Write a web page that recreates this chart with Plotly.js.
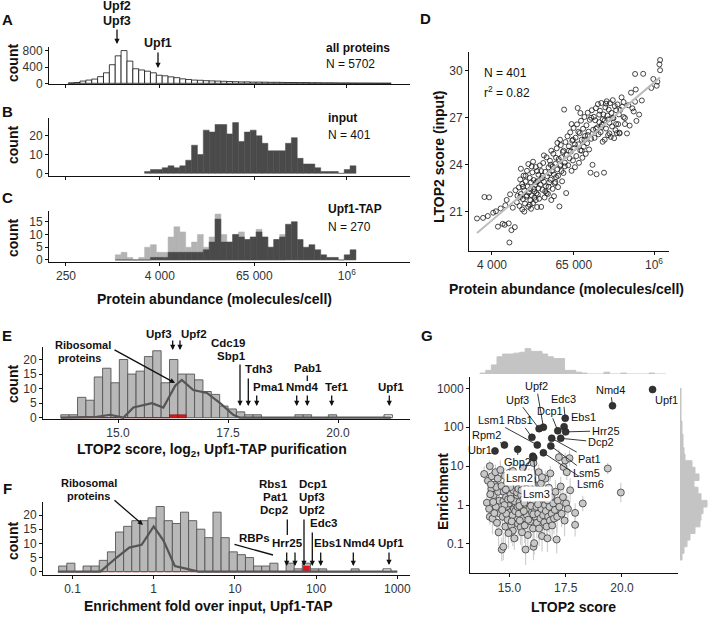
<!DOCTYPE html>
<html>
<head>
<meta charset="utf-8">
<script src="https://cdn.plot.ly/plotly-3.0.1.min.js"></script>
<style>
  html, body { margin: 0; padding: 0; background: #fff; }
  #figure { width: 709px; height: 617px; }
</style>
</head>
<body>
<div id="figure"></div>
<script>
// ---------- data ----------
// A-C: histograms of protein abundance (log10 molecules/cell), shared bins
var abundBinStart = 2.427;
var abundBinWidth = 0.0753;
var abundTicks = [250, 4000, 65000, 1e6];
var abundTickText = ['250', '4 000', '65 000', '10<sup>6</sup>'];

var allCounts = [10, 20, 55, 80, 105, 165, 260, 460, 680, 810, 550, 360, 330, 300, 260,
    200, 185, 160, 140, 110, 95, 80, 75, 65, 60, 55, 50, 45, 40, 35, 35, 30, 30, 28, 25,
    25, 22, 20, 20, 18, 18, 15, 15, 12, 12, 10, 8, 8, 6, 5, 5, 4, 3, 2, 2];
var inputStartBin = 13;
var inputCounts = [1, 2, 2, 3, 4, 3, 4, 7, 15, 10, 23, 22, 26, 26, 21, 27, 17, 22, 23, 20,
    16, 12, 12, 12, 16, 19, 8, 5, 5, 3, 1, 1, 1, 0, 2, 4];
var tapStartBin = 8;
var tapOtherCounts = [2, 3, 1, 0, 1, 5, 6, 3, 3, 9, 13, 11, 5, 7, 10, 5, 9, 18, 10, 7, 10,
    11, 8, 9, 12, 9, 5, 8, 10];
var tapCounts = [0, 0, 0, 0, 0, 0, 1, 1, 1, 3, 3, 3, 3, 3, 3, 4, 7, 16, 7, 7, 10, 9, 8, 9,
    11, 9, 5, 8, 9, 14, 15, 8, 5, 6, 4, 2, 1, 1, 0, 2, 4];

// D: [log10 abundance, LTOP2 score (input)]
var dPoints = [
    [3.38,20.58],[3.47,20.62],[3.49,21.95],[3.56,21.93],[3.54,20.74],[3.62,20.95],[3.66,21.04],[3.69,20.06],
    [3.73,21.22],[3.76,20.24],[3.79,20.18],[3.80,21.42],[3.85,20.27],[3.86,19.05],[3.89,19.84],[3.82,21.76],
    [3.87,22.12],[3.91,21.27],[3.94,20.03],[3.95,22.38],[3.97,21.62],[3.98,22.02],
    [4.00,22.56],[4.01,21.38],[4.02,23.07],[4.03,22.14],[4.05,21.16],[4.05,22.78],[4.06,21.82],[4.07,23.31],
    [4.08,22.37],[4.09,21.53],[4.10,22.94],[4.11,21.97],[4.12,23.62],[4.13,22.61],[4.14,21.33],[4.15,22.24],
    [4.16,23.17],[4.17,21.74],[4.18,22.88],[4.19,22.06],[4.20,23.52],[4.21,21.56],[4.22,22.47],[4.22,23.03],
    [4.23,21.91],[4.24,22.72],[4.25,23.86],[4.26,22.19],[4.27,21.31],[4.28,22.96],[4.29,23.37],[4.29,22.51],
    [4.30,21.84],[4.03,23.75],[4.08,21.02],[4.12,22.05],[4.16,21.45],[4.19,23.90],[4.23,22.30],[4.27,23.60],
    [4.14,24.05],[4.06,22.60],[4.18,21.20],[4.25,21.75],[4.21,24.20],[4.10,23.30],[4.02,21.95],[4.28,22.10],
    [4.17,22.45],[4.26,22.90],
    [4.31,23.96],[4.32,22.74],[4.33,21.32],[4.34,23.14],[4.35,22.41],[4.36,24.12],[4.37,22.92],[4.38,21.92],
    [4.39,23.55],[4.40,22.63],[4.41,24.48],[4.42,23.27],[4.43,22.15],[4.44,23.84],[4.45,22.88],[4.46,24.26],
    [4.47,23.05],[4.48,21.76],[4.49,23.61],[4.50,22.47],[4.51,24.71],[4.52,23.38],[4.53,22.83],[4.54,24.06],
    [4.55,23.22],[4.56,25.05],[4.57,23.71],[4.58,22.58],[4.59,24.37],[4.60,21.35],[4.61,23.94],[4.62,25.26],
    [4.63,24.47],[4.64,22.95],[4.65,24.82],[4.66,23.48],[4.67,27.52],[4.68,24.14],[4.69,25.45],[4.70,22.20],
    [4.33,23.60],[4.37,24.60],[4.41,22.20],[4.45,23.45],[4.48,24.90],[4.52,22.00],[4.55,24.45],[4.58,23.30],
    [4.62,24.00],[4.66,24.90],[4.35,23.30],[4.44,22.60],[4.50,23.90],[4.57,25.40],[4.63,23.60],[4.39,22.30],
    [4.47,24.00],[4.54,22.90],[4.61,25.60],[4.68,23.90],
    [4.71,24.63],[4.72,25.82],[4.73,23.97],[4.74,25.18],[4.75,24.42],[4.76,26.07],[4.77,24.85],[4.78,23.62],
    [4.79,25.54],[4.80,24.28],[4.81,26.35],[4.82,25.07],[4.83,23.85],[4.84,25.73],[4.85,24.56],[4.86,26.58],
    [4.87,27.62],[4.88,25.31],[4.89,24.13],[4.90,26.02],[4.91,24.92],[4.92,26.81],[4.93,25.60],[4.94,24.45],
    [4.95,26.30],[4.96,25.15],[4.97,27.05],[4.98,25.84],[4.99,24.70],[5.00,26.52],[5.01,25.38],[5.02,27.32],
    [5.03,26.11],[5.04,24.98],[5.05,26.87],[5.06,23.50],[5.07,25.66],[5.08,27.48],[5.09,24.00],[5.10,26.24],
    [4.74,24.90],[4.78,26.60],[4.83,25.30],[4.88,26.10],[4.93,24.90],[4.97,25.60],[5.02,25.90],[5.07,27.00],
    [4.80,25.60],[4.91,27.30],
    [5.11,27.06],[5.12,25.72],[5.13,26.84],[5.14,27.61],[5.15,23.40],[5.16,26.38],[5.17,27.87],[5.18,25.95],
    [5.19,26.72],[5.20,27.45],[5.21,26.08],[5.22,27.94],[5.23,26.55],[5.24,25.47],[5.25,27.21],[5.26,23.50],
    [5.27,26.83],[5.28,27.66],[5.29,26.31],[5.30,28.05],[5.31,27.14],[5.32,25.89],[5.33,27.52],[5.34,26.68],
    [5.35,27.93],[5.36,25.78],[5.37,27.31],[5.38,26.45],[5.39,28.12],[5.40,26.97],[5.41,25.70],[5.42,27.74],
    [5.43,26.21],[5.44,27.48],[5.45,26.02],[5.46,27.85],[5.47,26.59],[5.48,27.21],[5.49,26.00],[5.50,27.50],
    [5.14,26.30],[5.19,27.20],[5.24,26.90],[5.29,27.90],[5.34,26.00],[5.39,27.00],[5.44,26.60],[5.22,26.40],
    [5.32,26.90],[5.27,25.60],
    [5.52,28.30],[5.55,27.05],[5.57,26.98],[5.57,26.60],[5.60,26.00],[5.62,27.80],[5.64,26.50],[5.66,28.60],
    [5.70,27.40],[5.72,28.02],[5.74,26.80],[5.73,28.80],[5.72,29.79],[5.78,27.20],[5.82,28.10],[5.84,29.80],
    [5.55,28.00],[5.68,27.60],[5.53,27.70],[5.49,26.05],
    [5.99,29.47],[6.04,29.04],[6.05,29.30],[6.08,30.40],[6.09,30.68],[6.09,30.03],[5.96,28.90]
];

// E: LTOP2 score histogram of the Upf1-TAP purification
var eBinStart = 13.7;
var eBinWidth = 0.19;
var eCounts = [1, 1, 7, 6, 14, 17, 12, 20, 15, 16, 21, 23, 12, 20, 15, 15, 13, 9, 8, 4, 3, 2,
    1, 1, 0, 0, 0, 0, 1, 1, 0, 0, 1];
var eNmdCounts = [0, 0, 0, 0, 0, 0, 0, 0, 0, 0, 0, 0, 0, 1, 1];
var eUpf1Score = 21.14;
var eRiboScore = [13.7, 14.52, 14.82, 15.12, 15.35, 15.77, 16.03, 16.3, 16.45, 16.71, 17.02, 17.32, 17.62, 17.77, 21.2];
var eRiboCount = [0, 0.3, 1, 0, 3.5, 5, 3.5, 11, 13, 9.5, 8.5, 5, 1, 0, 0];

// F: enrichment fold histogram (bins in log10 fold)
var fBinStart = -1.17;
var fBinWidth = 0.1;
var fCounts = [2, 3, 0, 2, 2, 4, 7, 14, 16, 18, 18, 19, 23, 18, 17, 21, 18, 15, 12, 21, 12, 7,
    6, 5, 2, 2, 3, 0, 3, 1, 3, 1, 1, 0, 0, 0, 1];
var fNmdCounts = [0, 0, 0, 0, 0, 0, 0, 0, 0, 0, 0, 0, 0, 0, 0, 0, 0, 0, 0, 0, 0, 0, 0, 0, 0, 0,
    0, 0, 0, 0, 2];
var fUpf1Fold = 746;
var fRiboFold = [0.066, 0.22, 0.35, 0.5, 0.71, 1.0, 1.32, 1.82, 2.57, 3.55, 1000];
var fRiboCount = [0, 0, 5, 8.5, 9.5, 16, 11, 2, 1, 0, 0];

// G: [LTOP2 score, enrichment, error (log10 units)]
var gPoints = [
    [13.88,6.3,0.2],[14.00,1.15,0.25],[14.10,0.8,0.3],[14.13,0.5,0.2],[14.13,10,0.15],[14.05,4.2,0.3],
    [14.2,2.6,0.35],[14.25,0.45,0.4],[14.3,1.8,0.2],[14.35,3.3,0.25],[14.4,0.9,0.3],[14.22,5.5,0.2],
    [14.45,0.35,0.35],[14.5,2.2,0.3],[14.55,1.3,0.45],[14.38,7.0,0.2],[14.28,1.2,0.3],[14.48,4.8,0.25],
    [14.58,0.6,0.4],[14.15,1.9,0.3],[14.42,2.9,0.2],[14.6,8.0,0.25],[14.33,0.62,0.3],[14.52,0.2,0.35],
    [14.18,3.4,0.2],
    [14.66,0.072,0.3],[14.73,0.085,0.35],[14.73,1.26,0.3],[14.65,3.1,0.25],[14.7,0.5,0.4],[14.75,2.2,0.3],
    [14.8,5.6,0.2],[14.82,0.28,0.45],[14.85,1.6,0.3],[14.88,0.9,0.35],[14.9,3.8,0.25],[14.92,0.42,0.4],
    [14.95,2.7,0.3],[14.98,1.1,0.3],[15.0,6.8,0.2],[15.02,0.65,0.35],[15.05,1.9,0.3],[15.08,0.3,0.45],
    [15.1,4.4,0.25],[15.12,1.35,0.3],[15.15,0.22,0.4],[15.18,2.4,0.3],[15.2,0.8,0.35],[15.22,0.14,0.3],
    [15.25,3.3,0.25],[15.28,1.05,0.3],[15.3,0.48,0.4],[15.32,5.1,0.2],[15.35,1.7,0.3],[15.38,0.33,0.45],
    [14.78,1.0,0.3],[14.86,0.6,0.35],[14.94,1.4,0.3],[15.04,2.9,0.25],[15.14,0.55,0.4],[15.24,1.25,0.3],
    [15.34,2.1,0.3],[14.68,0.75,0.35],[14.96,0.19,0.4],[15.16,7.5,0.2],[15.26,0.7,0.35],[15.06,1.45,0.3],
    [14.84,2.5,0.25],[15.36,0.9,0.3],[15.1,0.38,0.45],
    [15.4,2.6,0.3],[15.42,0.6,0.4],[15.45,1.2,0.3],[15.48,4.0,0.25],[15.5,0.27,0.45],[15.52,1.8,0.3],
    [15.55,0.85,0.35],[15.58,3.0,0.25],[15.6,0.45,0.4],[15.62,1.4,0.3],[15.65,6.0,0.2],[15.68,0.3,0.45],
    [15.7,2.2,0.3],[15.72,0.072,0.4],[15.75,1.0,0.3],[15.78,0.55,0.4],[15.8,3.5,0.25],[15.82,0.17,0.45],
    [15.85,1.6,0.3],[15.88,0.8,0.35],[15.9,2.8,0.3],[15.92,0.38,0.4],[15.95,1.25,0.3],[15.98,4.6,0.25],
    [16.0,0.65,0.35],[16.02,2.0,0.3],[16.05,0.25,0.45],[16.07,0.085,0.35],[16.1,0.105,0.3],[16.07,12,0.2],
    [16.12,1.5,0.3],[16.15,0.5,0.4],[16.18,3.2,0.25],[15.44,0.95,0.3],[15.54,2.4,0.3],[15.64,0.7,0.35],
    [15.74,1.7,0.3],[15.84,0.42,0.4],[15.94,2.3,0.3],[16.04,1.1,0.3],[16.14,0.75,0.35],[15.46,0.4,0.4],
    [15.66,1.15,0.3],[15.86,5.5,0.2],[16.06,0.58,0.4],[15.56,0.2,0.45],[15.76,2.6,0.3],[15.96,0.95,0.3],
    [16.16,1.9,0.3],[15.6,9.0,0.2],
    [16.2,0.9,0.3],[16.22,0.35,0.4],[16.25,1.7,0.3],[16.28,0.6,0.35],[16.3,2.5,0.3],[16.32,0.25,0.45],
    [16.35,1.2,0.3],[16.38,0.45,0.4],[16.4,3.6,0.25],[16.42,0.8,0.35],[16.45,0.16,0.4],[16.48,1.5,0.3],
    [16.5,0.55,0.4],[16.52,2.1,0.3],[16.55,0.36,0.45],[16.58,1.0,0.3],[16.6,4.8,0.2],[16.62,0.7,0.35],
    [16.65,0.28,0.4],[16.69,0.14,0.35],[16.7,1.3,0.3],[16.72,0.5,0.4],[16.75,2.8,0.25],[16.78,0.9,0.3],
    [16.8,0.4,0.4],[16.82,6.5,0.2],[16.85,1.6,0.3],[16.88,0.6,0.35],[16.9,0.3,0.4],[16.95,1.1,0.3],
    [16.98,0.45,0.4],[16.3,7.0,0.2],[16.45,5.2,0.2],[16.6,1.9,0.3],[16.27,1.05,0.3],
    [17.02,0.75,0.35],[17.05,2.2,0.3],[17.1,0.13,0.35],[17.12,0.5,0.4],[17.15,1.3,0.3],[17.2,17,0.2],
    [17.22,0.9,0.3],[17.28,3.0,0.25],[17.32,0.6,0.35],[17.38,1.6,0.3],[17.45,0.4,0.4],[17.48,14,0.2],
    [17.52,1.1,0.3],[17.6,0.8,0.35],[17.67,16,0.2],[17.7,2.4,0.3],[17.92,0.63,0.25],[17.92,0.31,0.3],
    [18.26,1.1,0.2],[19.37,8.7,0.15],[19.95,2.1,0.25],[17.4,9.5,0.2],[17.55,7.0,0.2]
];
var gNames = ['Upf1', 'Nmd4', 'Upf2', 'Upf3', 'Edc3', 'Dcp1', 'Ebs1', 'Hrr25', 'Dcp2', 'Pat1',
    'Lsm5', 'Lsm6', 'Lsm1', 'Rbs1', 'Rpm2', 'Ubr1', 'Gbp2', 'Lsm2', 'Lsm3'];
var gNamedScore = [21.36, 19.58, 16.51, 16.32, 17.48, 17.15, 17.43, 17.5, 17.28, 16.88,
    16.84, 16.51, 16.24, 16.0, 14.78, 14.36, 15.37, 16.04, 16.08];
var gNamedEnrich = [930, 355, 100, 92, 170, 81, 103, 76, 52, 52,
    33, 22, 35, 55, 35, 24.6, 27, 18, 16.5];

var gTopStart = 13.7;
var gTopWidth = 0.25;
var gTopCounts = [1, 4, 10, 19, 22, 22, 23, 24, 28, 25, 25, 22, 19, 17, 17, 4, 4, 2, 1, 0, 0, 0,
    2, 0, 0, 1, 0, 0, 0, 0, 1, 0, 0];
var gRightStart = -1.41;
var gRightWidth = 0.17;
var gRightCounts = [2, 4, 7, 10, 15, 20, 21, 23, 27, 21, 18, 14, 19, 15, 12, 5, 4, 3, 3, 2, 2,
    1, 1, 1, 1, 1];

// ---------- helpers ----------
var W = 709, H = 617;
var FONT = 'Liberation Sans, Arial, Helvetica, sans-serif';

function xd(a, b) { return [a / W, b / W]; }
function yd(top, bottom) { return [1 - bottom / H, 1 - top / H]; }

function centers(start, width, offset, n) {
    var out = [];
    for (var i = 0; i < n; i++) out.push(start + (offset + i + 0.5) * width);
    return out;
}

function stepEdges(start, width, n) {
    var out = [];
    for (var i = 0; i <= n; i++) out.push(start + i * width);
    return out;
}

function baseAxis(o) {
    var ax = {
        showline: true, linecolor: '#111', linewidth: 1,
        ticks: 'outside', ticklen: 3, tickwidth: 1, tickcolor: '#111',
        showgrid: false, zeroline: false, fixedrange: true,
        tickmode: 'array', tickfont: { size: 12, color: '#333' }
    };
    for (var k in o) ax[k] = o[k];
    return ax;
}

function hiddenAxis(o) {
    var ax = {
        showline: false, ticks: '', showticklabels: false,
        showgrid: false, zeroline: false, fixedrange: true
    };
    for (var k in o) ax[k] = o[k];
    return ax;
}

function label(text, x, y, o) {
    var a = {
        xref: 'paper', yref: 'paper', x: x / W, y: 1 - y / H,
        text: text, showarrow: false, xanchor: 'center', yanchor: 'middle',
        font: { family: FONT, size: 12, color: '#111' }
    };
    for (var k in o) a[k] = o[k];
    return a;
}

function arrow(x1, y1, x2, y2, head) {
    return {
        xref: 'paper', yref: 'paper', x: x2 / W, y: 1 - y2 / H,
        ax: x1 - x2, ay: y1 - y2, text: '', showarrow: true,
        arrowhead: head ? 2 : 0, arrowsize: 0.8, arrowwidth: 1.3,
        arrowcolor: '#111', standoff: 0, startstandoff: 0
    };
}

// ---------- traces ----------
var data = [];

// A
data.push({
    type: 'bar', x: centers(abundBinStart, abundBinWidth, 0, allCounts.length), y: allCounts,
    width: abundBinWidth, marker: { color: '#fff', line: { color: '#111', width: 0.8 } },
    xaxis: 'x', yaxis: 'y', hoverinfo: 'skip'
});
// B
data.push({
    type: 'bar', x: centers(abundBinStart, abundBinWidth, inputStartBin, inputCounts.length), y: inputCounts,
    width: abundBinWidth, marker: { color: '#4a4a4a', line: { color: '#4a4a4a', width: 0.5 } },
    xaxis: 'x2', yaxis: 'y2', hoverinfo: 'skip'
});
// C
data.push({
    type: 'bar', x: centers(abundBinStart, abundBinWidth, tapStartBin, tapOtherCounts.length), y: tapOtherCounts,
    width: abundBinWidth, marker: { color: '#b3b3b3', line: { color: '#b3b3b3', width: 0.5 } },
    xaxis: 'x3', yaxis: 'y3', hoverinfo: 'skip'
});
data.push({
    type: 'bar', x: centers(abundBinStart, abundBinWidth, tapStartBin, tapCounts.length), y: tapCounts,
    width: abundBinWidth, marker: { color: '#4a4a4a', line: { color: '#4a4a4a', width: 0.5 } },
    xaxis: 'x3', yaxis: 'y3', hoverinfo: 'skip'
});

// D
var dX = dPoints.map(function (p) { return p[0]; });
var dY = dPoints.map(function (p) { return p[1]; });
var n = dX.length, sx = 0, sy = 0, sxx = 0, sxy = 0;
for (var i = 0; i < n; i++) { sx += dX[i]; sy += dY[i]; sxx += dX[i] * dX[i]; sxy += dX[i] * dY[i]; }
var slope = (n * sxy - sx * sy) / (n * sxx - sx * sx);
var icpt = (sy - slope * sx) / n;
var xmin = Math.min.apply(null, dX), xmax = Math.max.apply(null, dX);
data.push({
    type: 'scatter', mode: 'markers', x: dX, y: dY,
    marker: { symbol: 'circle-open', size: 5, color: '#1a1a1a', line: { width: 0.8 } },
    xaxis: 'x4', yaxis: 'y4', hoverinfo: 'skip'
});
data.push({
    type: 'scatter', mode: 'lines', x: [xmin, xmax], y: [icpt + slope * xmin, icpt + slope * xmax],
    line: { color: '#bdbdbd', width: 2 }, xaxis: 'x4', yaxis: 'y4', hoverinfo: 'skip'
});

// E
data.push({
    type: 'bar', x: centers(eBinStart, eBinWidth, 0, eCounts.length), y: eCounts,
    width: eBinWidth, marker: { color: '#b8b8b8', line: { color: '#555', width: 0.9 } },
    xaxis: 'x5', yaxis: 'y5', hoverinfo: 'skip'
});
data.push({
    type: 'bar', x: centers(eBinStart, eBinWidth, 0, eNmdCounts.length), y: eNmdCounts,
    width: eBinWidth, marker: { color: '#d41a1a', line: { color: '#8a1010', width: 0.6 } },
    xaxis: 'x5', yaxis: 'y5', hoverinfo: 'skip'
});
data.push({
    type: 'bar', x: [eUpf1Score], y: [1], width: eBinWidth,
    marker: { color: '#fff', line: { color: '#444', width: 0.9 } },
    xaxis: 'x5', yaxis: 'y5', hoverinfo: 'skip'
});
data.push({
    type: 'scatter', mode: 'lines', x: eRiboScore, y: eRiboCount,
    line: { color: '#555', width: 2.2 }, xaxis: 'x5', yaxis: 'y5', hoverinfo: 'skip'
});

// F
data.push({
    type: 'bar', x: centers(fBinStart, fBinWidth, 0, fCounts.length), y: fCounts,
    width: fBinWidth, marker: { color: '#b8b8b8', line: { color: '#555', width: 0.9 } },
    xaxis: 'x6', yaxis: 'y6', hoverinfo: 'skip'
});
data.push({
    type: 'bar', x: centers(fBinStart, fBinWidth, 0, fNmdCounts.length), y: fNmdCounts,
    width: fBinWidth * 0.8, marker: { color: '#e0141e', line: { color: '#e0141e', width: 0.5 } },
    xaxis: 'x6', yaxis: 'y6', hoverinfo: 'skip'
});
data.push({
    type: 'bar', x: [Math.log10(fUpf1Fold)], y: [1], width: fBinWidth,
    marker: { color: '#fff', line: { color: '#444', width: 0.9 } },
    xaxis: 'x6', yaxis: 'y6', hoverinfo: 'skip'
});
data.push({
    type: 'scatter', mode: 'lines', x: fRiboFold.map(Math.log10), y: fRiboCount,
    line: { color: '#555', width: 2.2 }, xaxis: 'x6', yaxis: 'y6', hoverinfo: 'skip'
});

// G marginal histograms
var topEdges = stepEdges(gTopStart, gTopWidth, gTopCounts.length);
data.push({
    type: 'scatter', mode: 'lines', x: [topEdges[0]].concat(topEdges),
    y: [0].concat(gTopCounts, [gTopCounts[gTopCounts.length - 1]]),
    line: { shape: 'hv', color: '#c4c4c4', width: 1 }, fill: 'tozeroy', fillcolor: '#c4c4c4',
    xaxis: 'x8', yaxis: 'y8', hoverinfo: 'skip'
});
var rightEdges = stepEdges(gRightStart, gRightWidth, gRightCounts.length);
data.push({
    type: 'scatter', mode: 'lines', y: [rightEdges[0]].concat(rightEdges),
    x: [0].concat(gRightCounts, [gRightCounts[gRightCounts.length - 1]]),
    line: { shape: 'vh', color: '#c4c4c4', width: 1 }, fill: 'tozerox', fillcolor: '#c4c4c4',
    xaxis: 'x9', yaxis: 'y9', hoverinfo: 'skip'
});

// G scatter
var gX = gPoints.map(function (p) { return p[0]; });
var gY = gPoints.map(function (p) { return p[1]; });
var gUp = gPoints.map(function (p) { return p[1] * (Math.pow(10, p[2]) - 1); });
var gDown = gPoints.map(function (p) { return p[1] * (1 - Math.pow(10, -p[2])); });
data.push({
    type: 'scatter', mode: 'markers', x: gX, y: gY,
    error_y: { type: 'data', symmetric: false, array: gUp, arrayminus: gDown,
        color: '#d0d0d0', thickness: 1.2, width: 0 },
    marker: { size: 7, color: '#c8c8c8', line: { color: '#3a3a3a', width: 0.8 } },
    xaxis: 'x7', yaxis: 'y7', hoverinfo: 'skip'
});
data.push({
    type: 'scatter', mode: 'markers', x: gNamedScore, y: gNamedEnrich,
    marker: { size: 7, color: '#333', line: { color: '#222', width: 0.6 } },
    xaxis: 'x7', yaxis: 'y7', hoverinfo: 'skip'
});

// ---------- annotations ----------
var ann = [];
var B = function (t) { return '<b>' + t + '</b>'; };

// panel letters
[['A', 7, 19], ['B', 7, 111], ['C', 7, 197], ['D', 426, 18], ['E', 7, 335], ['F', 7, 488], ['G', 427, 335]]
    .forEach(function (l) { ann.push(label(B(l[0]), l[1], l[2], { font: { family: FONT, size: 15, color: '#111' } })); });

// axis titles
var titleFont = { family: FONT, size: 14, color: '#111' };
[[63], [145], [238], [384], [541]].forEach(function (c) {
    ann.push(label(B('count'), 13, c[0], { textangle: -90, font: titleFont }));
});
ann.push(label(B('Protein abundance (molecules/cell)'), 215, 299, { font: titleFont }));
ann.push(label(B('Protein abundance (molecules/cell)'), 566, 289, { font: titleFont }));
ann.push(label(B('LTOP2 score (input)'), 439, 157, { textangle: -90, font: titleFont }));
ann.push(label(B('LTOP2 score, log<sub>2</sub>, Upf1-TAP purification'), 212, 450, { font: titleFont }));
ann.push(label(B('Enrichment fold over input, Upf1-TAP'), 208, 606, { font: titleFont }));
ann.push(label(B('Enrichment'), 443, 492, { textangle: -90, font: titleFont }));
ann.push(label(B('LTOP2 score'), 573, 607, { font: titleFont }));

// A-C side texts
var sideFont = { family: FONT, size: 12, color: '#111' };
ann.push(label(B('all proteins'), 324, 48, { xanchor: 'left', font: sideFont }));
ann.push(label('N = 5702', 324, 64, { xanchor: 'left', font: sideFont }));
ann.push(label(B('input'), 326, 118, { xanchor: 'left', font: sideFont }));
ann.push(label('N = 401', 326, 135, { xanchor: 'left', font: sideFont }));
ann.push(label(B('Upf1-TAP'), 326, 209, { xanchor: 'left', font: sideFont }));
ann.push(label('N = 270', 326, 227, { xanchor: 'left', font: sideFont }));

// A arrows
var aFont = { family: FONT, size: 12.5, color: '#111' };
ann.push(label(B('Upf2'), 117, 6, { font: aFont }));
ann.push(label(B('Upf3'), 117, 21, { font: aFont }));
ann.push(arrow(117, 28, 117, 44, true));
ann.push(label(B('Upf1'), 158, 43, { font: aFont }));
ann.push(arrow(158, 51, 158, 68, true));

// D texts
ann.push(label('N = 401', 482, 73, { xanchor: 'left', font: sideFont }));
ann.push(label('r<sup>2</sup> = 0.82', 482, 92, { xanchor: 'left', font: sideFont }));

// E texts and arrows
var eFont = { family: FONT, size: 11.5, color: '#111' };
var rFont = { family: FONT, size: 11, color: '#111' };
ann.push(label(B('Ribosomal'), 83, 345, { font: rFont }));
ann.push(label(B('proteins'), 79, 358, { font: rFont }));
ann.push(arrow(113, 349, 175, 383, true));
ann.push(label(B('Upf3'), 159, 334, { font: eFont }));
ann.push(label(B('Upf2'), 194, 334, { font: eFont }));
ann.push(arrow(172.7, 339, 172.7, 350, true));
ann.push(arrow(180, 339, 180, 350, true));
ann.push(label(B('Cdc19'), 228, 343, { font: eFont }));
ann.push(label(B('Sbp1'), 231, 356, { font: eFont }));
ann.push(arrow(240, 363, 240, 406, true));
ann.push(label(B('Tdh3'), 258, 369, { font: eFont }));
ann.push(arrow(248.3, 377, 248.3, 406, true));
ann.push(label(B('Pma1'), 268, 387, { font: eFont }));
ann.push(arrow(256.7, 394, 256.7, 406, true));
ann.push(label(B('Nmd4'), 302, 387, { font: eFont }));
ann.push(arrow(296.7, 394, 296.7, 406, true));
ann.push(label(B('Pab1'), 308, 368, { font: eFont }));
ann.push(arrow(307.3, 374, 307.3, 381, false));
ann.push(arrow(307.3, 394, 307.3, 406, true));
ann.push(label(B('Tef1'), 336, 387, { font: eFont }));
ann.push(arrow(331.7, 394, 331.7, 406, true));
ann.push(label(B('Upf1'), 391, 387, { font: eFont }));
ann.push(arrow(389.3, 394, 389.3, 406, true));

// F texts and arrows
ann.push(label(B('Ribosomal'), 89, 483, { font: rFont }));
ann.push(label(B('proteins'), 88, 496, { font: rFont }));
ann.push(arrow(113, 499, 143, 525, true));
ann.push(label(B('Rbs1'), 290, 484, { xanchor: 'right', font: eFont }));
ann.push(label(B('Pat1'), 290, 497, { xanchor: 'right', font: eFont }));
ann.push(label(B('Dcp2'), 290, 510, { xanchor: 'right', font: eFont }));
ann.push(label(B('Dcp1'), 297, 484, { xanchor: 'left', font: eFont }));
ann.push(label(B('Upf3'), 297, 497, { xanchor: 'left', font: eFont }));
ann.push(label(B('Upf2'), 297, 510, { xanchor: 'left', font: eFont }));
ann.push(arrow(287.3, 518, 287.3, 535, false));
ann.push(label(B('Hrr25'), 287, 543, { font: eFont }));
ann.push(arrow(286.7, 551, 286.7, 566, true));
ann.push(arrow(295, 551, 295, 566, true));
ann.push(arrow(304, 518, 304, 566, true));
ann.push(label(B('Edc3'), 324, 523, { font: eFont }));
ann.push(arrow(312.3, 531, 312.3, 566, true));
ann.push(label(B('RBPs'), 254, 538, { font: eFont }));
ann.push(arrow(233, 544, 273, 555, false));
ann.push(label(B('Ebs1'), 328, 543, { font: eFont }));
ann.push(arrow(320.7, 551, 320.7, 566, true));
ann.push(label(B('Nmd4'), 359, 543, { font: eFont }));
ann.push(arrow(353.3, 551, 353.3, 566, true));
ann.push(label(B('Upf1'), 391, 543, { font: eFont }));
ann.push(arrow(389, 551, 389, 565, true));

// G point labels: [dx, dy, line?]
var gOffsets = {
    Upf1: [14, 10, false], Nmd4: [-2, -16, true], Upf2: [-7, -41, true], Upf3: [-22, -29, true],
    Edc3: [-2, -19, true], Dcp1: [-8, -20, true], Ebs1: [19, -10, false], Hrr25: [40, -1, true],
    Dcp2: [40, 4, true], Pat1: [38, 21, true], Lsm5: [36, 27, true], Lsm6: [47, 31, true],
    Lsm1: [-46, -25, true], Rbs1: [-12, -17, true], Rpm2: [-18, -10, true], Ubr1: [-15, -1, false],
    Gbp2: [0, 13, true], Lsm2: [-13, 22, true], Lsm3: [3, 36, true]
};
var gFont = { family: FONT, size: 11, color: '#111' };
gNames.forEach(function (name, i) {
    var o = gOffsets[name];
    var a = {
        xref: 'x7', yref: 'y7', x: gNamedScore[i], y: Math.log10(gNamedEnrich[i]),
        text: name, font: gFont
    };
    if (o[2]) {
        a.showarrow = true; a.arrowhead = 0; a.arrowwidth = 0.9; a.arrowcolor = '#222';
        a.ax = o[0]; a.ay = o[1]; a.standoff = 3;
    } else {
        a.showarrow = false; a.xshift = o[0]; a.yshift = -o[1];
    }
    if (name === 'Lsm2' || name === 'Lsm3') { a.bgcolor = '#fff'; a.borderpad = 1; }
    ann.push(a);
});

// ---------- layout ----------
var abundTickVals = abundTicks.map(Math.log10);
var layout = {
    width: W, height: H,
    margin: { l: 0, r: 0, t: 0, b: 0 },
    paper_bgcolor: '#fff', plot_bgcolor: '#fff',
    showlegend: false, barmode: 'overlay', bargap: 0,
    font: { family: FONT, size: 12, color: '#222' },

    xaxis: baseAxis({ domain: xd(49, 410), range: [2.18, 6.81], tickvals: abundTickVals, showticklabels: false, anchor: 'y' }),
    yaxis: baseAxis({ domain: yd(46.7, 84), range: [-17, 906], tickvals: [0, 400, 800], anchor: 'x' }),
    xaxis2: baseAxis({ domain: xd(49, 410), range: [2.18, 6.81], tickvals: abundTickVals, showticklabels: false, anchor: 'y2' }),
    yaxis2: baseAxis({ domain: yd(118.3, 176), range: [-1.4, 29.3], tickvals: [0, 10, 20], anchor: 'x2' }),
    xaxis3: baseAxis({ domain: xd(49, 410), range: [2.18, 6.81], tickvals: abundTickVals, ticktext: abundTickText, anchor: 'y3' }),
    yaxis3: baseAxis({ domain: yd(210.7, 262), range: [-0.8, 19.3], tickvals: [0, 5, 10, 15], anchor: 'x3' }),

    xaxis4: baseAxis({ domain: xd(469, 669), range: [3.262, 6.222], tickvals: abundTickVals.slice(1), ticktext: abundTickText.slice(1), anchor: 'y4' }),
    yaxis4: baseAxis({ domain: yd(52, 251), range: [18.51, 31.19], tickvals: [21, 24, 27, 30], anchor: 'x4' }),

    xaxis5: baseAxis({ domain: xd(43, 410), range: [13.295, 21.636], tickvals: [15, 17.5, 20], ticktext: ['15.0', '17.5', '20.0'], anchor: 'y5' }),
    yaxis5: baseAxis({ domain: yd(346.7, 419), range: [-0.45, 24.4], tickvals: [0, 5, 10, 15, 20], anchor: 'x5' }),

    xaxis6: baseAxis({ domain: xd(43, 410), range: [-1.363, 3.156], tickvals: [-1, 0, 1, 2, 3], ticktext: ['0.1', '1', '10', '100', '1000'], anchor: 'y6' }),
    yaxis6: baseAxis({ domain: yd(501.7, 575), range: [-1.17, 24.7], tickvals: [0, 5, 10, 15, 20], anchor: 'x6' }),

    xaxis7: baseAxis({ domain: xd(470, 678), range: [13.25, 22.49], tickvals: [15, 17.5, 20], ticktext: ['15.0', '17.5', '20.0'], anchor: 'y7' }),
    yaxis7: baseAxis({ type: 'log', domain: yd(376.7, 573.3), range: [-1.753, 3.298], tickvals: [0.1, 1, 10, 100, 1000], ticktext: ['0.1', '1', '10', '100', '1000'], anchor: 'x7' }),

    xaxis8: hiddenAxis({ domain: xd(470, 678), range: [13.25, 22.49], anchor: 'y8' }),
    yaxis8: hiddenAxis({ domain: yd(345, 374), range: [0, 32], anchor: 'x8' }),
    xaxis9: hiddenAxis({ domain: xd(680, 709), range: [0, 29], anchor: 'y9' }),
    yaxis9: hiddenAxis({ domain: yd(376.7, 573.3), range: [-1.753, 3.298], anchor: 'x9' }),

    annotations: ann
};

Plotly.newPlot('figure', data, layout, { staticPlot: true, displayModeBar: false });
</script>
</body>
</html>
